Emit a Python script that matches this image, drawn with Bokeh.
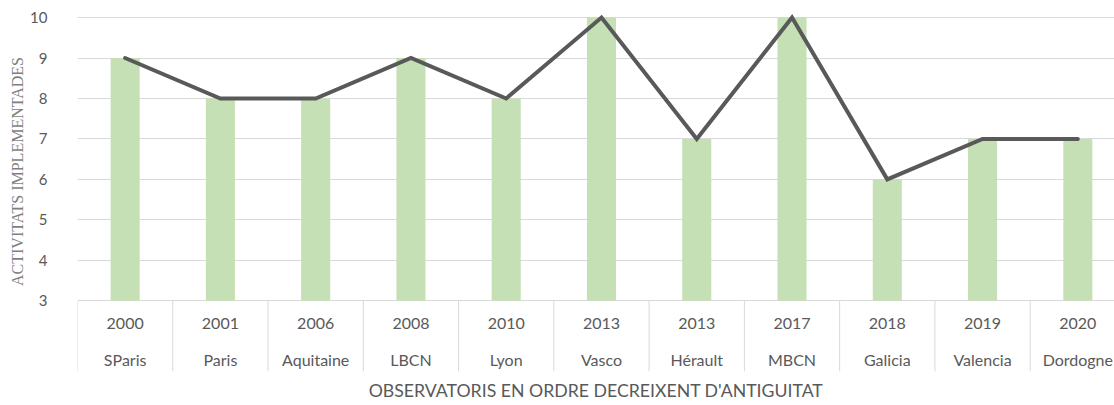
from bokeh.plotting import figure
from bokeh.models import FixedTicker, Range1d, ColumnDataSource
from bokeh.core.properties import value
from bokeh.embed import file_html
from bokeh.resources import INLINE

years = ["2000", "2001", "2006", "2008", "2010", "2013", "2013", "2017", "2018", "2019", "2020"]
names = ["SParis", "Paris", "Aquitaine", "LBCN", "Lyon", "Vasco", "Hérault", "MBCN", "Galicia", "Valencia", "Dordogne"]
activitats = [9, 8, 8, 9, 8, 10, 7, 10, 6, 7, 7]
y_ticks = [3, 4, 5, 6, 7, 8, 9, 10]

n = len(names)
xs = [i + 0.5 for i in range(n)]
src = ColumnDataSource(dict(x=xs, top=activitats, bottom=[3] * n))

GRID = "#D9D9D9"
TXT = "#595959"
FONT = "Lato"
Y_MIN = 3
TABLE_BOTTOM = 1.25
YEAR_ROW = 2.43
NAME_ROW = 1.55

p = figure(width=1114, height=404, output_backend="svg", toolbar_location=None,
           x_range=Range1d(0, 10.885), y_range=Range1d(TABLE_BOTTOM, 10.15),
           min_border_left=77, min_border_right=0, min_border_top=11, min_border_bottom=33)
p.outline_line_color = None

p.vbar(x="x", top="top", bottom="bottom", width=0.305, source=src,
       fill_color="#C5E0B4", line_color=None)
p.line(x="x", y="top", source=src, line_color="#595959", line_width=4,
       line_join="miter", line_cap="round")

# category table below the bars
seps = list(range(n + 1))
p.segment(x0=seps, x1=seps, y0=[Y_MIN] * len(seps), y1=[TABLE_BOTTOM] * len(seps),
          line_color=GRID, line_width=1)
p.text(x=xs, y=[YEAR_ROW] * n, text=years, text_align="center", text_baseline="middle",
       text_font=value(FONT), text_font_size="16px", text_color=TXT)
p.text(x=xs, y=[NAME_ROW] * n, text=names, text_align="center", text_baseline="middle",
       text_font=value(FONT), text_font_size="16px", text_color=TXT)

# y axis
ya = p.yaxis[0]
ya.ticker = FixedTicker(ticks=y_ticks)
ya.axis_line_color = None
ya.major_tick_line_color = None
ya.minor_tick_line_color = None
ya.major_label_text_font = FONT
ya.major_label_text_font_size = "15px"
ya.major_label_text_color = TXT
ya.major_label_standoff = 24
ya.axis_label = "\u00a0" * 10 + "ACTIVITATS IMPLEMENTADES"
ya.axis_label_text_font = "Liberation Serif"
ya.axis_label_text_font_size = "16px"
ya.axis_label_text_font_style = "normal"
ya.axis_label_text_color = "#7F7F7F"
ya.axis_label_standoff = 1
p.ygrid.ticker = FixedTicker(ticks=y_ticks)
p.ygrid.grid_line_color = GRID
p.xgrid.grid_line_color = None

# x axis: only the title
xa = p.xaxis[0]
xa.ticker = FixedTicker(ticks=[])
xa.axis_line_color = None
xa.major_tick_line_color = None
xa.minor_tick_line_color = None
xa.axis_label = "OBSERVATORIS EN ORDRE DECREIXENT D'ANTIGUITAT"
xa.axis_label_text_font = FONT
xa.axis_label_text_font_size = "17.7px"
xa.axis_label_text_font_style = "normal"
xa.axis_label_text_color = TXT
xa.axis_label_standoff = 8

open("out.html", "w").write(file_html(p, INLINE))
